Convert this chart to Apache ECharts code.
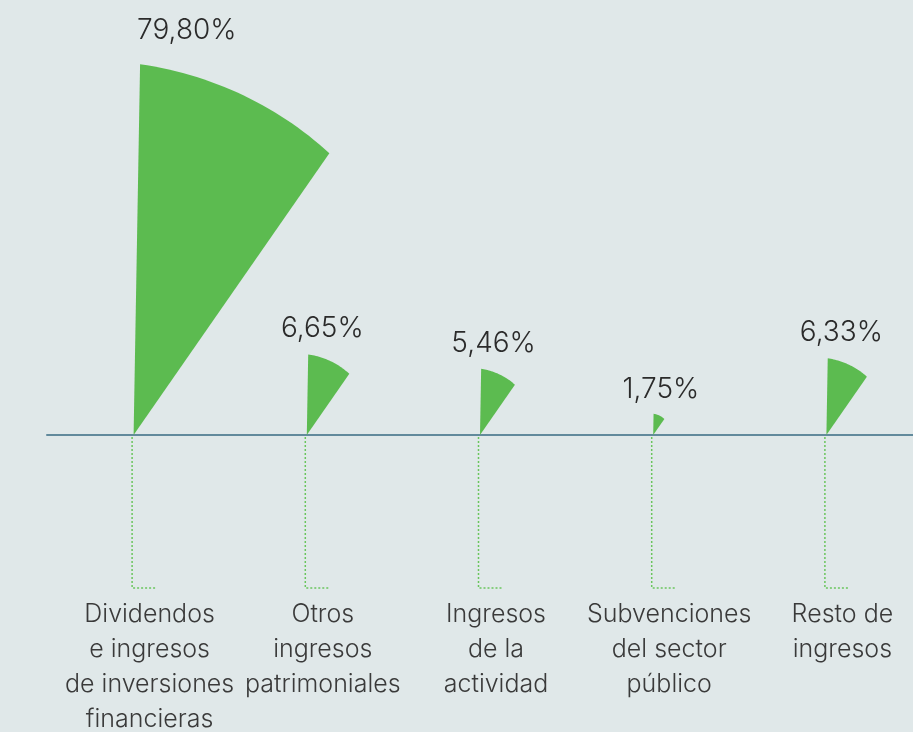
<!DOCTYPE html>
<html>
<head>
<meta charset="utf-8">
<script src="https://cdn.jsdelivr.net/npm/echarts@6/dist/echarts.min.js"></script>
<style>
  html, body { margin: 0; padding: 0; background: #e0e8e9; }
  #chart { width: 913px; height: 732px; }
</style>
</head>
<body>
<div id="chart"></div>
<script>
// categorias e ingresos (%)
const categories = [
  'Dividendos\ne ingresos\nde inversiones\nfinancieras',
  'Otros\ningresos\npatrimoniales',
  'Ingresos\nde la\nactividad',
  'Subvenciones\ndel sector\npúblico',
  'Resto de\ningresos'
];
const shares = [79.80, 6.65, 5.46, 1.75, 6.33];

// the dominant share is drawn on a compressed scale, like the original
const bigLimit = 50;
const bigData = [];
const smallData = [];
shares.forEach(function (v, i) {
  if (v > bigLimit) bigData.push([i, v]);
  else smallData.push([i, v]);
});

function fmt(v) {
  return v.toFixed(2).replace('.', ',') + '%';
}

function renderWedge(params, api) {
  const idx = api.value(0);
  const v = api.value(1);
  const base = api.coord([idx, 0]);
  const top = api.coord([idx, v]);
  const r = base[1] - top[1];
  const a0 = 1 * Math.PI / 180;
  const a1 = 34.8 * Math.PI / 180;
  const pts = [base];
  for (let k = 0; k <= 30; k++) {
    const t = k / 30;
    const a = a0 + (a1 - a0) * t;
    const rr = r * (1 - 0.075 * t);
    pts.push([base[0] + rr * Math.sin(a), base[1] - rr * Math.cos(a)]);
  }
  return {
    type: 'group',
    children: [
      {
        type: 'polyline',
        shape: { points: [[base[0] - 1.5, base[1] + 2], [base[0] - 1.5, base[1] + 153], [base[0] + 23, base[1] + 153]] },
        style: { stroke: '#6ac55d', lineWidth: 1.5, lineDash: [2, 2], fill: null }
      },
      {
        type: 'polygon',
        shape: { points: pts },
        style: { fill: '#5cbb50' }
      },
      {
        type: 'text',
        style: {
          text: fmt(v),
          x: base[0] + 5 + 0.13 * r,
          y: top[1] - 24 - 0.025 * r,
          align: 'center',
          verticalAlign: 'middle',
          font: '300 28px Inter',
          fill: '#2b2b2b'
        }
      }
    ]
  };
}

const chart = echarts.init(document.getElementById('chart'));
chart.setOption({
  backgroundColor: '#e0e8e9',
  animation: false,
  grid: { left: 47, right: 0, top: 40, bottom: 297, outerBoundsMode: 'none' },
  xAxis: {
    type: 'category',
    data: categories,
    boundaryGap: true,
    axisLine: { lineStyle: { color: '#628a9c', width: 2 } },
    axisTick: { show: false },
    axisLabel: {
      interval: 0,
      hideOverlap: false,
      margin: 162,
      fontSize: 25,
      lineHeight: 35,
      fontFamily: 'Inter',
      fontWeight: 300,
      color: '#3a3a3a',
      padding: [0, 0, 0, 32]
    }
  },
  yAxis: [
    { type: 'value', min: 0, max: 32.6, show: false },
    { type: 'value', min: 0, max: 85, show: false }
  ],
  series: [
    {
      type: 'custom',
      yAxisIndex: 0,
      renderItem: renderWedge,
      encode: { x: 0, y: 1 },
      data: smallData,
      z: 3
    },
    {
      type: 'custom',
      yAxisIndex: 1,
      renderItem: renderWedge,
      encode: { x: 0, y: 1 },
      data: bigData,
      z: 3
    }
  ]
});
</script>
</body>
</html>
